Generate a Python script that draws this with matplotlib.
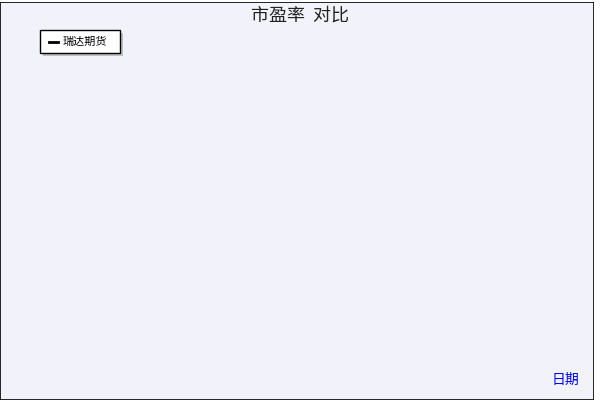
import matplotlib.pyplot as plt
from matplotlib.patches import Rectangle
from matplotlib.ticker import MultipleLocator

plt.rcParams['font.family'] = ['Noto Sans CJK SC', 'DejaVu Sans']

# trading-day index and PE value
days = [0, 3, 6, 8, 9, 14, 18, 22, 25, 27, 28, 30, 35, 38, 41, 46, 50, 55, 58, 61, 66, 71,
        75, 80, 85, 90, 95, 98, 101, 106, 111, 115, 117, 120, 125, 130, 135, 141, 145, 148,
        152, 155, 158, 161, 168, 175, 181, 188, 195, 200, 204, 208, 213, 218, 223, 228, 235,
        241, 248, 255, 262, 268, 275, 282, 288, 295, 302, 308, 315, 321, 325, 330, 335, 342,
        348, 355, 361, 368, 375, 381, 388, 395, 400, 404, 408, 413, 418, 425, 430, 435, 441,
        448, 455, 460, 465, 470, 475, 480, 485, 490, 495, 501, 508, 515, 518, 525, 531, 535,
        540, 545, 551, 558, 565, 571, 578, 585, 591, 595, 600, 605, 612, 618, 621, 627, 631,
        635, 641, 645, 651, 656, 661, 666, 671, 678, 684, 688, 691, 698, 705, 711, 718, 725,
        731, 736, 741, 750, 755, 761, 768, 773, 778, 785, 790, 798, 805, 810, 815, 822, 828,
        833, 838, 845, 852, 858, 865, 871, 878, 885, 891, 896, 901, 905, 912, 918, 926, 928,
        931, 935, 939, 946, 951, 958, 965, 971, 978, 985, 990, 995, 1005, 1012, 1018, 1025,
        1031, 1038, 1045, 1050, 1055, 1059, 1063, 1067, 1070, 1073, 1076, 1079]
pe = [58.5, 59.8, 59.2, 59.8, 37.2, 38.5, 37.9, 40.2, 41.2, 39.5, 31.0, 28.0, 26.5, 28.2,
      27.6, 29.3, 28.6, 29.5, 30.2, 31.5, 30.8, 31.3, 28.8, 29.0, 28.4, 29.0, 27.0, 28.5,
      28.0, 29.0, 28.6, 30.5, 29.0, 23.5, 26.5, 29.3, 28.7, 29.0, 31.5, 25.0, 30.0, 31.0,
      27.0, 22.0, 21.0, 21.5, 21.0, 22.5, 22.0, 23.6, 22.3, 24.0, 23.0, 22.0, 21.5, 19.0,
      19.8, 19.5, 19.3, 17.5, 18.2, 17.6, 17.5, 16.2, 15.0, 15.3, 15.0, 15.6, 15.2, 15.0,
      16.5, 15.8, 16.5, 16.0, 15.5, 15.8, 15.3, 15.9, 15.5, 17.0, 16.2, 15.5, 14.6, 14.2,
      13.0, 13.6, 14.0, 18.0, 18.3, 18.5, 18.0, 17.5, 18.5, 18.0, 16.7, 16.9, 17.3, 18.0,
      21.0, 20.3, 20.0, 19.5, 20.0, 19.5, 19.3, 19.8, 19.5, 25.7, 25.3, 25.0, 21.8, 28.8,
      27.6, 27.0, 27.4, 27.0, 27.2, 25.7, 27.0, 27.5, 27.6, 27.8, 31.8, 33.8, 31.0, 29.0,
      27.5, 33.0, 32.4, 32.6, 32.5, 31.8, 31.0, 30.9, 31.1, 28.5, 30.5, 30.0, 29.6, 29.5,
      28.8, 28.0, 26.5, 27.0, 26.2, 24.0, 24.5, 20.0, 22.5, 21.8, 22.0, 23.0, 24.5, 22.4,
      21.5, 19.0, 20.5, 21.5, 21.2, 21.0, 20.0, 18.5, 18.8, 18.0, 17.5, 17.0, 16.5, 18.5,
      17.6, 17.5, 17.5, 16.7, 17.2, 18.0, 28.8, 25.0, 22.5, 23.0, 24.0, 19.5, 23.5, 21.0,
      19.0, 20.5, 20.8, 19.0, 17.5, 16.8, 18.0, 18.6, 18.5, 19.0, 18.7, 19.0, 18.8, 21.5,
      20.0, 18.0, 19.5, 20.8, 17.5, 17.0, 16.5, 16.3]

tick_days = [0, 154, 308, 462, 616, 770, 924, 1076]
tick_labels = ['20210317', '20211019', '20220520', '20221216', '20230719',
               '20240221', '20240918', '20250423']

fig = plt.figure(figsize=(6, 4), dpi=100, facecolor='#6e6e6e')
# page background with shadow
fig.patches.append(Rectangle((0, 0.0), 0.99, 0.995, transform=fig.transFigure,
                             facecolor='#f2f3fa', edgecolor='black', linewidth=1.2))
fig.patches.append(Rectangle((0.99, 0), 0.01, 0.995, transform=fig.transFigure,
                             facecolor='white', edgecolor='none'))
fig.patches.append(Rectangle((0, 0.995), 1, 0.005, transform=fig.transFigure,
                             facecolor='white', edgecolor='none'))

ax = fig.add_axes([41 / 600, 42 / 400, 539 / 600, 297 / 400])
ax.set_facecolor('#dae1f6')
ax.plot(days, pe, color='black', linewidth=0.8)
ax.set_xlim(0, 1082)
ax.set_ylim(10, 65)
ax.yaxis.set_major_locator(MultipleLocator(5))
ax.yaxis.set_minor_locator(MultipleLocator(1))
ax.set_xticks(tick_days)
ax.set_xticklabels(tick_labels, rotation=45, ha='right', rotation_mode='anchor', fontsize=7)
ax.tick_params(axis='y', which='both', direction='in', labelsize=8, pad=6)
ax.tick_params(axis='y', which='major', length=6)
ax.tick_params(axis='y', which='minor', length=3)
ax.tick_params(axis='x', direction='in', length=5)
ax.grid(True, color='#b9c5e6', linewidth=0.8)
for s in ['top', 'right']:
    ax.spines[s].set_visible(False)
ax.spines['left'].set_linewidth(1.2)
ax.spines['bottom'].set_linewidth(1.2)

fig.text(0.5, 0.962, '市盈率  对比', ha='center', va='center', fontsize=13, color='#222222')
fig.text(565 / 600, 20 / 400, '日期', ha='center', va='center', fontsize=10, color='blue')

# legend box with shadow
fig.patches.append(Rectangle((43 / 600, 344 / 400), 80 / 600, 23 / 400, transform=fig.transFigure,
                             facecolor='#c0c0c0', edgecolor='none'))
fig.patches.append(Rectangle((40 / 600, 347 / 400), 80 / 600, 23 / 400, transform=fig.transFigure,
                             facecolor='white', edgecolor='black', linewidth=1))
fig.lines.append(plt.Line2D([49 / 600, 58 / 600], [358.5 / 400, 358.5 / 400],
                            transform=fig.transFigure, color='black', linewidth=2))
fig.text(63 / 600, 358.5 / 400, '瑞达期货', ha='left', va='center', fontsize=8)

fig.savefig('out.png', dpi=100, facecolor=fig.get_facecolor())
